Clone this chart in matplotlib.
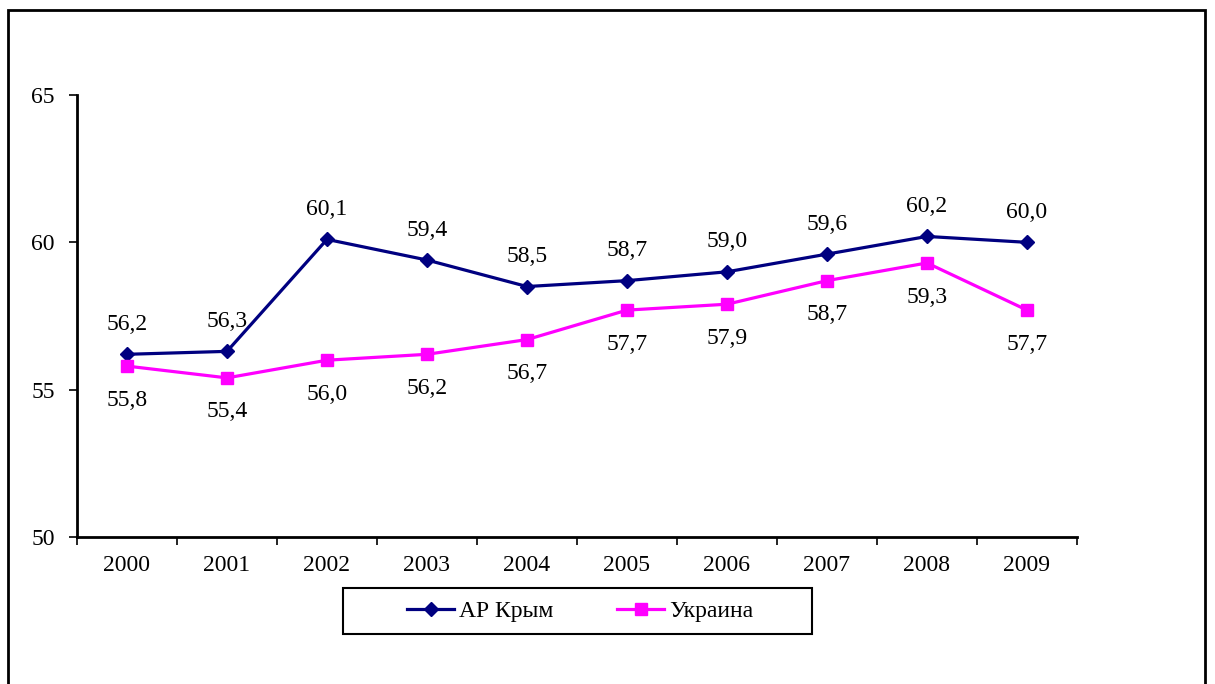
import matplotlib
matplotlib.use("Agg")
import matplotlib.pyplot as plt
from matplotlib.patches import Rectangle

years = ["2000", "2001", "2002", "2003", "2004", "2005", "2006", "2007", "2008", "2009"]
crimea = [56.2, 56.3, 60.1, 59.4, 58.5, 58.7, 59.0, 59.6, 60.2, 60.0]
ukraine = [55.8, 55.4, 56.0, 56.2, 56.7, 57.7, 57.9, 58.7, 59.3, 57.7]
yticks = [50, 55, 60, 65]

plt.rcParams["font.family"] = ["Liberation Serif", "DejaVu Serif"]
FS = 17

fig = plt.figure(figsize=(12.15, 6.84), dpi=100)
ax = fig.add_axes([77 / 1215, 1 - 537 / 684, 1000 / 1215, 442 / 684])

x = list(range(len(years)))
ax.plot(x, crimea, color="#000080", lw=2.3, marker="D", ms=7.5, label="АР Крым")
ax.plot(x, ukraine, color="#FF00FF", lw=2.3, marker="s", ms=8, label="Украина")

def fmt(v):
    return f"{v:.1f}".replace(".", ",")

for xi, v in zip(x, crimea):
    ax.annotate(fmt(v), (xi, v), xytext=(0, 14), textcoords="offset points",
                ha="center", va="bottom", fontsize=FS)
for xi, v in zip(x, ukraine):
    ax.annotate(fmt(v), (xi, v), xytext=(0, -17), textcoords="offset points",
                ha="center", va="top", fontsize=FS)

ax.set_xlim(-0.5, len(years) - 0.5)
ax.set_ylim(50, 65)
ax.set_yticks(yticks)
ax.set_yticklabels([str(t) for t in yticks], fontsize=FS)
ax.set_xticks([i - 0.5 for i in range(len(years) + 1)])
ax.set_xticklabels([])
ax.set_xticks(x, minor=True)
ax.set_xticklabels(years, minor=True, fontsize=FS)
ax.tick_params(axis="x", which="minor", length=0, pad=13)
ax.tick_params(axis="both", which="major", direction="out", length=6, width=1.2, color="black")
ax.tick_params(axis="y", pad=10)
for s in ["top", "right"]:
    ax.spines[s].set_visible(False)
for s in ["left", "bottom"]:
    ax.spines[s].set_linewidth(2)

# legend: box drawn separately to get the wide Excel-style padding
fig.legend(loc="center", bbox_to_anchor=(580 / 1215, 1 - 611 / 684), ncol=2,
           fontsize=FS, frameon=False, handlelength=2.0, columnspacing=2.7,
           handletextpad=0.2)
fig.patches.append(Rectangle((343 / 1215, 1 - 634 / 684), 469 / 1215, 46 / 684,
                             transform=fig.transFigure, fill=False, ec="black", lw=1.5))

fig.patches.append(Rectangle((8 / 1215, -0.1), 1197 / 1215, 1.1 - 10 / 684,
                             transform=fig.transFigure, fill=False, ec="black", lw=2))

fig.savefig("out.png", dpi=100)
